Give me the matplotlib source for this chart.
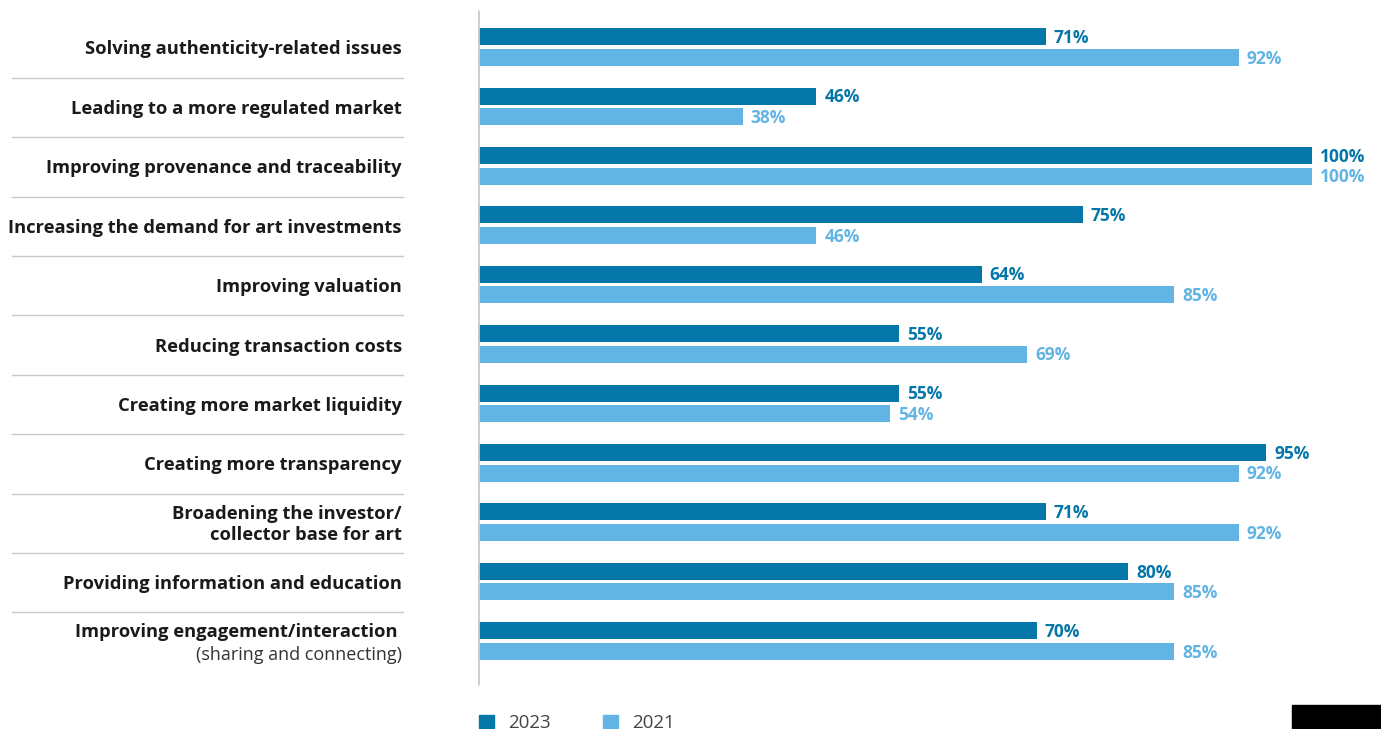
import matplotlib
matplotlib.use("Agg")
import matplotlib.pyplot as plt
import matplotlib.transforms as mtransforms
from matplotlib.patches import Rectangle
import numpy as np

categories = [
    "Solving authenticity-related issues",
    "Leading to a more regulated market",
    "Improving provenance and traceability",
    "Increasing the demand for art investments",
    "Improving valuation",
    "Reducing transaction costs",
    "Creating more market liquidity",
    "Creating more transparency",
    "Broadening the investor/\ncollector base for art",
    "Providing information and education",
    "Improving engagement/interaction ",
]
last_sub = "(sharing and connecting)"
values_2023 = [71, 46, 100, 75, 64, 55, 55, 95, 71, 80, 70]
values_2021 = [92, 38, 100, 46, 85, 69, 54, 92, 92, 85, 85]
series_names = ["2023", "2021"]

DARK = "#0476a8"
LIGHT = "#62b4e4"
TXT = "#1a1a1a"
FONT = "Open Sans"

W, H = 1381, 729
fig = plt.figure(figsize=(W / 100, H / 100), dpi=100)
ax = fig.add_axes([478 / W, 0, (W - 478) / W, 1])
k = 9.18  # px per percent
x0 = 9.15
ax.set_xlim(x0, x0 + (W - 478) / k)
ax.set_ylim((H - 47) / 59.4, -47 / 59.4)
ax.axis("off")

n = len(categories)
y = np.arange(n)
bh = 17 / 59.4
off = 10.3 / 59.4
ax.barh(y - off, values_2023, height=bh, color=DARK, zorder=2)
ax.barh(y + off, values_2021, height=bh, color=LIGHT, zorder=2)

dx = 8 / k
for yi, v in zip(y, values_2023):
    ax.text(v + dx, yi - off + 1.2 / 59.4, f"{v}%", color=DARK, fontsize=12.5, fontweight="bold",
            family=FONT, va="center", ha="left")
for yi, v in zip(y, values_2021):
    ax.text(v + dx, yi + off + 1.2 / 59.4, f"{v}%", color=LIGHT, fontsize=12.5, fontweight="bold",
            family=FONT, va="center", ha="left")

# axis line
ax.vlines(x0 + 0.05, -37 / 59.4, 638 / 59.4, color="#cccccc", lw=2, zorder=3)

trans = mtransforms.blended_transform_factory(fig.transFigure, ax.transData)
lx = 402 / W
for i, c in enumerate(categories):
    if i == n - 1:
        ax.text(lx, i - 9 / 59.4, c, transform=trans, ha="right", va="center",
                fontsize=13.25, fontweight="bold", family=FONT, color=TXT)
        ax.text(lx, i + 14 / 59.4, last_sub, transform=trans, ha="right", va="center",
                fontsize=13, family=FONT, color="#333333")
    else:
        ax.text(lx, i + 2.5 / 59.4, c, transform=trans, ha="right", va="center", fontsize=13.25,
                fontweight="bold", family=FONT, color=TXT, linespacing=1.2)
    if i < n - 1:
        ax.plot([12 / W, 403 / W], [i + 0.5 + 1 / 59.4] * 2, transform=trans, color="#c8c8c8",
                lw=1, clip_on=False)

# legend
for name, col, xl in zip(series_names, [DARK, LIGHT], [479, 603]):
    fig.patches.append(Rectangle((xl / W, 1 - 728 / H), 15 / W, 13 / H,
                                 transform=fig.transFigure, color=col))
    fig.text((xl + 29) / W, 1 - 722.5 / H, name, ha="left", va="center", fontsize=13.5,
             family=FONT, color="#444444")

# black block bottom-right
fig.patches.append(Rectangle((1292 / W, 0), 89 / W, 24 / H, transform=fig.transFigure,
                             color="black"))

fig.savefig("out.png", dpi=100)
